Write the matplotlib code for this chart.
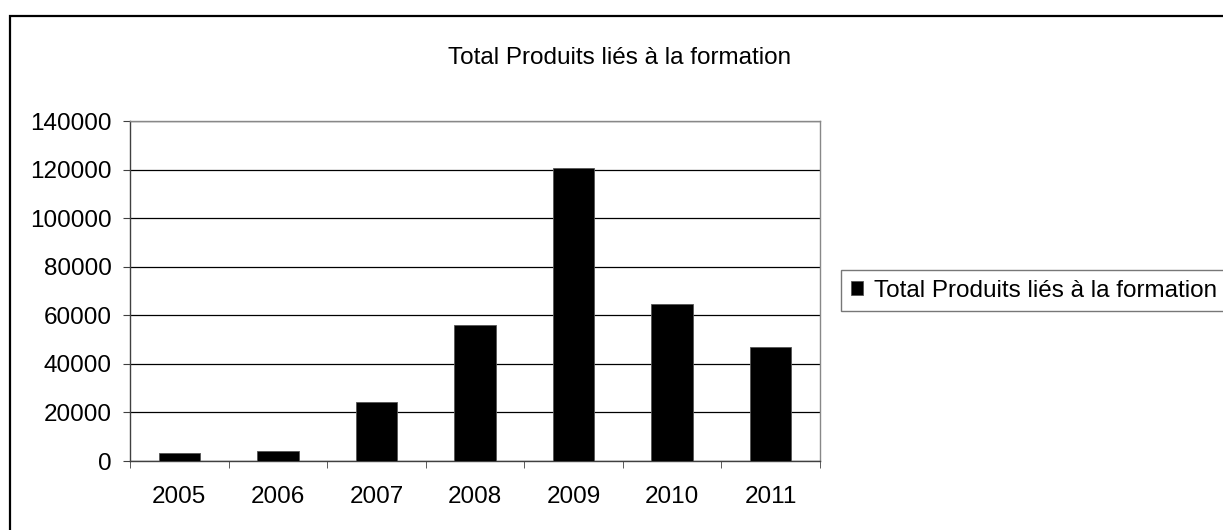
import matplotlib
matplotlib.use("Agg")
import matplotlib.pyplot as plt
from matplotlib.patches import Rectangle

categories = ["2005", "2006", "2007", "2008", "2009", "2010", "2011"]
values = [3500, 4200, 24300, 56100, 120500, 64600, 46900]
yticks = [0, 20000, 40000, 60000, 80000, 100000, 120000, 140000]
title = "Total Produits liés à la formation"
series_name = "Total Produits liés à la formation"

plt.rcParams['font.family'] = ['Liberation Sans', 'DejaVu Sans']
FS = 17.5

W, H = 1223, 530
fig = plt.figure(figsize=(W / 100, H / 100), dpi=100)
fig.patch.set_facecolor("white")

# outer chart border
fig.add_artist(Rectangle((10 / W, -0.05), 1.1, (H - 16) / H + 0.05, transform=fig.transFigure,
                         fill=False, edgecolor="black", linewidth=1.6, zorder=0))

ax = fig.add_axes([130 / W, (H - 461) / H, (820 - 130) / W, (461 - 121) / H])
x = list(range(len(categories)))
ax.bar(x, values, width=0.42, color="black", edgecolor="#555555", linewidth=0.6, zorder=3,
       label=series_name)
ax.set_xlim(-0.5, len(categories) - 0.5)
ax.set_ylim(0, 140000)
ax.set_yticks(yticks)
ax.set_yticklabels([str(v) for v in yticks], fontsize=FS)
ax.set_xticks(x)
ax.set_xticklabels(categories, fontsize=FS)
ax.tick_params(axis="x", length=0, pad=18)
ax.set_xticks([i - 0.5 for i in range(len(categories) + 1)], minor=True)
ax.tick_params(axis="x", which="minor", length=5, direction="out", color="#404040")
ax.tick_params(axis="y", length=5, direction="out", color="#404040", pad=8)
ax.grid(axis="y", color="black", linewidth=0.9, zorder=1)
for s in ["left", "bottom"]:
    ax.spines[s].set_color("#404040")
    ax.spines[s].set_linewidth(1.0)
for s in ["top", "right"]:
    ax.spines[s].set_color("#888888")
    ax.spines[s].set_linewidth(1.0)

fig.text((443 + 797) / 2 / W, 1 - 58 / H, title, ha="center", va="center", fontsize=FS)

leg = ax.legend(loc="upper left", bbox_to_anchor=(841 / W, 1 - 270 / H), bbox_transform=fig.transFigure,
                fontsize=FS, frameon=True, fancybox=False, handlelength=0.5, handleheight=0.5,
                handletextpad=0.45, borderpad=0.4, borderaxespad=0)
leg.get_frame().set_edgecolor("#555555")
leg.get_frame().set_linewidth(1.0)

fig.savefig("out.png", dpi=100)
